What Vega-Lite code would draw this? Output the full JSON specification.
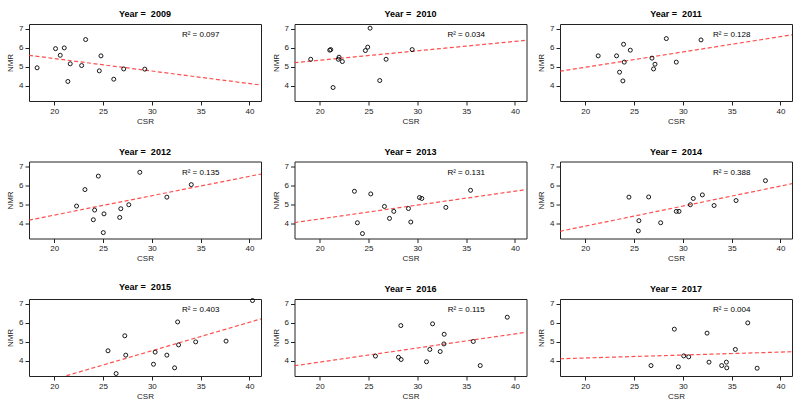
{
  "$schema": "https://vega.github.io/schema/vega-lite/v6.json",
  "padding": {"left": 6, "top": 9, "right": 5, "bottom": 5},
  "background": "white",
  "data": {"values": [
    {"Year": 2009, "kind": "obs", "CSR": 18.25, "NMR": 4.95},
    {"Year": 2009, "kind": "obs", "CSR": 20.14, "NMR": 5.96},
    {"Year": 2009, "kind": "obs", "CSR": 21.03, "NMR": 6.0},
    {"Year": 2009, "kind": "obs", "CSR": 20.62, "NMR": 5.61},
    {"Year": 2009, "kind": "obs", "CSR": 21.64, "NMR": 5.16},
    {"Year": 2009, "kind": "obs", "CSR": 21.4, "NMR": 4.23},
    {"Year": 2009, "kind": "obs", "CSR": 22.81, "NMR": 5.07},
    {"Year": 2009, "kind": "obs", "CSR": 23.22, "NMR": 6.44},
    {"Year": 2009, "kind": "obs", "CSR": 24.62, "NMR": 4.79},
    {"Year": 2009, "kind": "obs", "CSR": 24.79, "NMR": 5.58},
    {"Year": 2009, "kind": "obs", "CSR": 26.1, "NMR": 4.35},
    {"Year": 2009, "kind": "obs", "CSR": 27.12, "NMR": 4.89},
    {"Year": 2009, "kind": "obs", "CSR": 29.28, "NMR": 4.88},
    {"Year": 2009, "kind": "fit", "CSR": 17.42, "NMR": 5.61},
    {"Year": 2009, "kind": "fit", "CSR": 41.18, "NMR": 4.04},
    {"Year": 2009, "kind": "r2", "label": "R² = 0.097"},

    {"Year": 2010, "kind": "obs", "CSR": 19.08, "NMR": 5.4},
    {"Year": 2010, "kind": "obs", "CSR": 21.03, "NMR": 5.88},
    {"Year": 2010, "kind": "obs", "CSR": 21.13, "NMR": 5.91},
    {"Year": 2010, "kind": "obs", "CSR": 21.37, "NMR": 3.91},
    {"Year": 2010, "kind": "obs", "CSR": 21.98, "NMR": 5.51},
    {"Year": 2010, "kind": "obs", "CSR": 21.91, "NMR": 5.4},
    {"Year": 2010, "kind": "obs", "CSR": 22.32, "NMR": 5.28},
    {"Year": 2010, "kind": "obs", "CSR": 24.68, "NMR": 5.86},
    {"Year": 2010, "kind": "obs", "CSR": 24.92, "NMR": 6.04},
    {"Year": 2010, "kind": "obs", "CSR": 25.16, "NMR": 7.04},
    {"Year": 2010, "kind": "obs", "CSR": 26.15, "NMR": 4.28},
    {"Year": 2010, "kind": "obs", "CSR": 26.8, "NMR": 5.4},
    {"Year": 2010, "kind": "obs", "CSR": 29.47, "NMR": 5.91},
    {"Year": 2010, "kind": "fit", "CSR": 17.42, "NMR": 5.22},
    {"Year": 2010, "kind": "fit", "CSR": 41.18, "NMR": 6.4},
    {"Year": 2010, "kind": "r2", "label": "R² = 0.034"},

    {"Year": 2011, "kind": "obs", "CSR": 21.33, "NMR": 5.58},
    {"Year": 2011, "kind": "obs", "CSR": 23.21, "NMR": 5.58},
    {"Year": 2011, "kind": "obs", "CSR": 23.52, "NMR": 4.72},
    {"Year": 2011, "kind": "obs", "CSR": 23.93, "NMR": 6.19},
    {"Year": 2011, "kind": "obs", "CSR": 24.0, "NMR": 5.25},
    {"Year": 2011, "kind": "obs", "CSR": 23.86, "NMR": 4.26},
    {"Year": 2011, "kind": "obs", "CSR": 24.62, "NMR": 5.88},
    {"Year": 2011, "kind": "obs", "CSR": 26.84, "NMR": 5.46},
    {"Year": 2011, "kind": "obs", "CSR": 27.15, "NMR": 5.14},
    {"Year": 2011, "kind": "obs", "CSR": 27.0, "NMR": 4.89},
    {"Year": 2011, "kind": "obs", "CSR": 28.31, "NMR": 6.49},
    {"Year": 2011, "kind": "obs", "CSR": 29.33, "NMR": 5.25},
    {"Year": 2011, "kind": "obs", "CSR": 31.86, "NMR": 6.42},
    {"Year": 2011, "kind": "fit", "CSR": 17.42, "NMR": 4.77},
    {"Year": 2011, "kind": "fit", "CSR": 41.18, "NMR": 6.69},
    {"Year": 2011, "kind": "r2", "label": "R² = 0.128"},

    {"Year": 2012, "kind": "obs", "CSR": 22.29, "NMR": 4.91},
    {"Year": 2012, "kind": "obs", "CSR": 23.15, "NMR": 5.78},
    {"Year": 2012, "kind": "obs", "CSR": 24.01, "NMR": 4.19},
    {"Year": 2012, "kind": "obs", "CSR": 24.14, "NMR": 4.7},
    {"Year": 2012, "kind": "obs", "CSR": 24.52, "NMR": 6.49},
    {"Year": 2012, "kind": "obs", "CSR": 25.1, "NMR": 4.5},
    {"Year": 2012, "kind": "obs", "CSR": 25.03, "NMR": 3.51},
    {"Year": 2012, "kind": "obs", "CSR": 26.71, "NMR": 4.31},
    {"Year": 2012, "kind": "obs", "CSR": 26.82, "NMR": 4.77},
    {"Year": 2012, "kind": "obs", "CSR": 27.64, "NMR": 4.98},
    {"Year": 2012, "kind": "obs", "CSR": 28.77, "NMR": 6.69},
    {"Year": 2012, "kind": "obs", "CSR": 31.54, "NMR": 5.38},
    {"Year": 2012, "kind": "obs", "CSR": 34.04, "NMR": 6.04},
    {"Year": 2012, "kind": "fit", "CSR": 17.42, "NMR": 4.17},
    {"Year": 2012, "kind": "fit", "CSR": 41.18, "NMR": 6.6},
    {"Year": 2012, "kind": "r2", "label": "R² = 0.135"},

    {"Year": 2013, "kind": "obs", "CSR": 23.56, "NMR": 5.69},
    {"Year": 2013, "kind": "obs", "CSR": 23.86, "NMR": 4.03},
    {"Year": 2013, "kind": "obs", "CSR": 24.38, "NMR": 3.46},
    {"Year": 2013, "kind": "obs", "CSR": 25.23, "NMR": 5.55},
    {"Year": 2013, "kind": "obs", "CSR": 26.63, "NMR": 4.89},
    {"Year": 2013, "kind": "obs", "CSR": 27.15, "NMR": 4.26},
    {"Year": 2013, "kind": "obs", "CSR": 27.59, "NMR": 4.63},
    {"Year": 2013, "kind": "obs", "CSR": 29.09, "NMR": 4.78},
    {"Year": 2013, "kind": "obs", "CSR": 29.33, "NMR": 4.07},
    {"Year": 2013, "kind": "obs", "CSR": 30.22, "NMR": 5.36},
    {"Year": 2013, "kind": "obs", "CSR": 30.46, "NMR": 5.31},
    {"Year": 2013, "kind": "obs", "CSR": 32.92, "NMR": 4.84},
    {"Year": 2013, "kind": "obs", "CSR": 35.45, "NMR": 5.74},
    {"Year": 2013, "kind": "fit", "CSR": 17.42, "NMR": 4.04},
    {"Year": 2013, "kind": "fit", "CSR": 41.18, "NMR": 5.78},
    {"Year": 2013, "kind": "r2", "label": "R² = 0.131"},

    {"Year": 2014, "kind": "obs", "CSR": 24.48, "NMR": 5.38},
    {"Year": 2014, "kind": "obs", "CSR": 26.5, "NMR": 5.39},
    {"Year": 2014, "kind": "obs", "CSR": 25.5, "NMR": 4.14},
    {"Year": 2014, "kind": "obs", "CSR": 25.44, "NMR": 3.6},
    {"Year": 2014, "kind": "obs", "CSR": 27.73, "NMR": 4.03},
    {"Year": 2014, "kind": "obs", "CSR": 29.33, "NMR": 4.63},
    {"Year": 2014, "kind": "obs", "CSR": 29.61, "NMR": 4.63},
    {"Year": 2014, "kind": "obs", "CSR": 30.77, "NMR": 4.98},
    {"Year": 2014, "kind": "obs", "CSR": 31.07, "NMR": 5.31},
    {"Year": 2014, "kind": "obs", "CSR": 32.0, "NMR": 5.5},
    {"Year": 2014, "kind": "obs", "CSR": 33.2, "NMR": 4.94},
    {"Year": 2014, "kind": "obs", "CSR": 35.45, "NMR": 5.2},
    {"Year": 2014, "kind": "obs", "CSR": 38.46, "NMR": 6.25},
    {"Year": 2014, "kind": "fit", "CSR": 17.42, "NMR": 3.58},
    {"Year": 2014, "kind": "fit", "CSR": 41.18, "NMR": 6.09},
    {"Year": 2014, "kind": "r2", "label": "R² = 0.388"},

    {"Year": 2015, "kind": "obs", "CSR": 25.51, "NMR": 4.53},
    {"Year": 2015, "kind": "obs", "CSR": 26.34, "NMR": 3.33},
    {"Year": 2015, "kind": "obs", "CSR": 27.23, "NMR": 5.32},
    {"Year": 2015, "kind": "obs", "CSR": 27.33, "NMR": 4.3},
    {"Year": 2015, "kind": "obs", "CSR": 30.17, "NMR": 3.82},
    {"Year": 2015, "kind": "obs", "CSR": 30.34, "NMR": 4.46},
    {"Year": 2015, "kind": "obs", "CSR": 31.54, "NMR": 4.3},
    {"Year": 2015, "kind": "obs", "CSR": 32.33, "NMR": 3.63},
    {"Year": 2015, "kind": "obs", "CSR": 32.64, "NMR": 6.05},
    {"Year": 2015, "kind": "obs", "CSR": 32.74, "NMR": 4.84},
    {"Year": 2015, "kind": "obs", "CSR": 34.49, "NMR": 5.0},
    {"Year": 2015, "kind": "obs", "CSR": 37.6, "NMR": 5.04},
    {"Year": 2015, "kind": "obs", "CSR": 40.31, "NMR": 7.18},
    {"Year": 2015, "kind": "fit", "CSR": 17.42, "NMR": 2.64},
    {"Year": 2015, "kind": "fit", "CSR": 41.18, "NMR": 6.21},
    {"Year": 2015, "kind": "r2", "label": "R² = 0.403"},

    {"Year": 2016, "kind": "obs", "CSR": 25.71, "NMR": 4.25},
    {"Year": 2016, "kind": "obs", "CSR": 28.07, "NMR": 4.19},
    {"Year": 2016, "kind": "obs", "CSR": 28.34, "NMR": 4.07},
    {"Year": 2016, "kind": "obs", "CSR": 28.31, "NMR": 5.86},
    {"Year": 2016, "kind": "obs", "CSR": 30.94, "NMR": 3.95},
    {"Year": 2016, "kind": "obs", "CSR": 31.28, "NMR": 4.6},
    {"Year": 2016, "kind": "obs", "CSR": 31.56, "NMR": 5.95},
    {"Year": 2016, "kind": "obs", "CSR": 32.34, "NMR": 4.49},
    {"Year": 2016, "kind": "obs", "CSR": 32.72, "NMR": 4.89},
    {"Year": 2016, "kind": "obs", "CSR": 32.75, "NMR": 5.4},
    {"Year": 2016, "kind": "obs", "CSR": 35.73, "NMR": 5.02},
    {"Year": 2016, "kind": "obs", "CSR": 36.44, "NMR": 3.75},
    {"Year": 2016, "kind": "obs", "CSR": 39.21, "NMR": 6.3},
    {"Year": 2016, "kind": "fit", "CSR": 17.42, "NMR": 3.74},
    {"Year": 2016, "kind": "fit", "CSR": 41.18, "NMR": 5.51},
    {"Year": 2016, "kind": "r2", "label": "R² = 0.115"},

    {"Year": 2017, "kind": "obs", "CSR": 26.74, "NMR": 3.75},
    {"Year": 2017, "kind": "obs", "CSR": 29.13, "NMR": 5.67},
    {"Year": 2017, "kind": "obs", "CSR": 29.54, "NMR": 3.68},
    {"Year": 2017, "kind": "obs", "CSR": 30.09, "NMR": 4.26},
    {"Year": 2017, "kind": "obs", "CSR": 30.6, "NMR": 4.21},
    {"Year": 2017, "kind": "obs", "CSR": 32.48, "NMR": 5.46},
    {"Year": 2017, "kind": "obs", "CSR": 32.68, "NMR": 3.93},
    {"Year": 2017, "kind": "obs", "CSR": 33.98, "NMR": 3.75},
    {"Year": 2017, "kind": "obs", "CSR": 34.46, "NMR": 3.93},
    {"Year": 2017, "kind": "obs", "CSR": 34.5, "NMR": 3.63},
    {"Year": 2017, "kind": "obs", "CSR": 35.38, "NMR": 4.6},
    {"Year": 2017, "kind": "obs", "CSR": 36.65, "NMR": 6.0},
    {"Year": 2017, "kind": "obs", "CSR": 37.61, "NMR": 3.61},
    {"Year": 2017, "kind": "fit", "CSR": 17.42, "NMR": 4.11},
    {"Year": 2017, "kind": "fit", "CSR": 41.18, "NMR": 4.48},
    {"Year": 2017, "kind": "r2", "label": "R² = 0.004"}
  ]},
  "facet": {
    "field": "Year",
    "type": "ordinal",
    "header": {
      "title": null,
      "labelExpr": "'Year =\u00a0 ' + datum.value",
      "labelFont": "Liberation Sans",
      "labelFontWeight": "bold",
      "labelFontSize": 9,
      "labelColor": "black",
      "labelPadding": 5
    }
  },
  "columns": 3,
  "bounds": "flush",
  "spacing": {"row": 60.5, "column": 33.5},
  "resolve": {"axis": {"x": "independent", "y": "independent"}},
  "spec": {
    "width": 232,
    "height": 77,
    "layer": [
      {
        "encoding": {
          "x": {
            "field": "CSR", "type": "quantitative",
            "scale": {"domain": [17.42, 41.18], "nice": false, "zero": false},
            "axis": {"title": "CSR", "values": [20, 25, 30, 35, 40], "tickCount": 5}
          },
          "y": {
            "field": "NMR", "type": "quantitative",
            "scale": {"domain": [3.2, 7.26], "nice": false, "zero": false},
            "axis": {"title": "NMR", "values": [4, 5, 6, 7], "tickCount": 4}
          }
        },
        "layer": [
          {
            "transform": [{"filter": "datum.kind == 'fit'"}],
            "mark": {"type": "line", "color": "#FF3030", "strokeWidth": 1.2, "strokeDash": [4, 2.5], "opacity": 0.85, "clip": true}
          },
          {
            "transform": [{"filter": "datum.kind == 'obs'"}],
            "mark": {"type": "point", "shape": "circle", "filled": false, "color": "black", "size": 16, "strokeWidth": 0.9, "opacity": 1}
          }
        ]
      },
      {
        "transform": [{"filter": "datum.kind == 'r2'"}],
        "mark": {"type": "text", "font": "Liberation Sans", "fontSize": 8, "color": "black", "align": "center", "baseline": "middle"},
        "encoding": {
          "x": {"datum": 35, "type": "quantitative"},
          "y": {"datum": 6.67, "type": "quantitative"},
          "text": {"field": "label", "type": "nominal"}
        }
      }
    ]
  },
  "config": {
    "view": {"stroke": "#222", "strokeWidth": 1},
    "axis": {
      "domain": false,
      "grid": false,
      "ticks": true,
      "tickColor": "#222",
      "tickSize": 4,
      "labelFont": "Liberation Sans",
      "labelFontSize": 8,
      "labelColor": "#222",
      "labelPadding": 2,
      "labelOverlap": false,
      "labelBound": false,
      "labelFlush": false,
      "titleFont": "Liberation Sans",
      "titleFontSize": 8,
      "titleFontWeight": "normal",
      "titleColor": "#222"
    },
    "axisX": {"titlePadding": 2},
    "axisY": {"labelAngle": 0, "titlePadding": 4}
  }
}
